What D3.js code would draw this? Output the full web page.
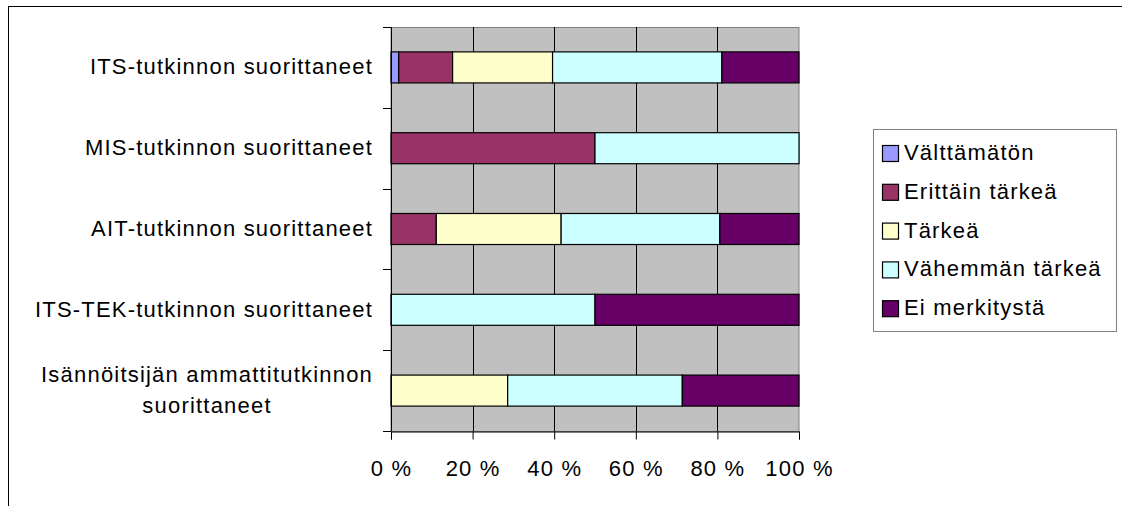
<!DOCTYPE html>
<html>
<head>
<meta charset="utf-8">
<script src="https://cdn.jsdelivr.net/npm/d3@7"></script>
<style>
  html, body { margin: 0; padding: 0; background: #ffffff; }
  svg { display: block; }
  text { font-family: "Liberation Sans", Arial, sans-serif; font-size: 22px; letter-spacing: 1.2px; fill: #000; }
</style>
</head>
<body>
<svg id="chart" width="1122" height="506"></svg>
<script>
// Respondent groups (one bar each), top to bottom
const categories = [
  "ITS-tutkinnon suorittaneet",
  "MIS-tutkinnon suorittaneet",
  "AIT-tutkinnon suorittaneet",
  "ITS-TEK-tutkinnon suorittaneet",
  "Isännöitsijän ammattitutkinnon\nsuorittaneet"
];

// Answer options, in stacking order
const seriesNames = ["Välttämätön", "Erittäin tärkeä", "Tärkeä", "Vähemmän tärkeä", "Ei merkitystä"];
const seriesColors = ["#9999FF", "#993366", "#FFFFCC", "#CCFFFF", "#660066"];

// Share of answers per group (%)
const valttamaton     = [1.9,  0,    0,    0,  0];
const erittainTarkea  = [13.2, 50,   11.1, 0,  0];
const tarkea          = [24.5, 0,    30.6, 0,  28.6];
const vahemmanTarkea  = [41.5, 50,   38.9, 50, 42.8];
const eiMerkitysta    = [18.9, 0,    19.4, 50, 28.6];

const xTicks = [0, 20, 40, 60, 80, 100];
const xTickLabels = ["0 %", "20 %", "40 %", "60 %", "80 %", "100 %"];

const seriesValues = [valttamaton, erittainTarkea, tarkea, vahemmanTarkea, eiMerkitysta];
const rows = categories.map((c, i) => {
  const r = { category: c };
  seriesNames.forEach((s, j) => { r[s] = seriesValues[j][i]; });
  return r;
});

const svg = d3.select("#chart");

// Outer chart frame
svg.append("rect")
  .attr("x", 8.5).attr("y", 6.5)
  .attr("width", 1130).attr("height", 520)
  .attr("fill", "none").attr("stroke", "#000").attr("stroke-width", 1);

const plot = { left: 391, right: 799, top: 27, bottom: 431 };

const x = d3.scaleLinear().domain([0, 100]).range([plot.left, plot.right]);
const y = d3.scaleBand().domain(categories)
  .range([plot.top, plot.bottom])
  .paddingInner(0.616).paddingOuter(0.308);

// Plot area background
svg.append("rect")
  .attr("x", plot.left).attr("y", plot.top + 0.5)
  .attr("width", plot.right - plot.left).attr("height", plot.bottom - plot.top)
  .attr("fill", "#C0C0C0").attr("stroke", "#808080").attr("stroke-width", 1);

// Vertical gridlines
svg.append("g")
  .selectAll("line")
  .data(xTicks.filter(t => t > 0 && t < 100))
  .join("line")
  .attr("x1", d => Math.round(x(d)) + 0.5).attr("x2", d => Math.round(x(d)) + 0.5)
  .attr("y1", plot.top).attr("y2", plot.bottom)
  .attr("stroke", "#000").attr("stroke-width", 1);

// Stacked bars
const stack = d3.stack().keys(seriesNames);
const layers = stack(rows);
const color = d3.scaleOrdinal().domain(seriesNames).range(seriesColors);

svg.append("g")
  .selectAll("g")
  .data(layers)
  .join("g")
  .attr("fill", d => color(d.key))
  .selectAll("rect")
  .data(d => d.filter(p => p[1] - p[0] > 0))
  .join("rect")
  .attr("x", d => x(d[0]))
  .attr("y", d => y(d.data.category))
  .attr("width", d => x(d[1]) - x(d[0]))
  .attr("height", y.bandwidth())
  .attr("stroke", "#000").attr("stroke-width", 1.2);

// Category axis: line and tick marks at band boundaries
const yAxis = svg.append("g");
yAxis.append("line")
  .attr("x1", plot.left + 0.5).attr("x2", plot.left + 0.5)
  .attr("y1", plot.top).attr("y2", plot.bottom)
  .attr("stroke", "#000");
const step = y.step();
yAxis.selectAll("line.tick")
  .data(d3.range(categories.length + 1))
  .join("line")
  .attr("class", "tick")
  .attr("x1", plot.left - 8).attr("x2", plot.left)
  .attr("y1", i => Math.round(plot.top + i * step) + 0.5)
  .attr("y2", i => Math.round(plot.top + i * step) + 0.5)
  .attr("stroke", "#000");

// Category labels (multi-line labels are centred as a block, block right-aligned)
const labelRight = 373;
const lineGap = 31;
categories.forEach(c => {
  const lines = c.split("\n");
  const cy = y(c) + y.bandwidth() / 2;
  const g = svg.append("g");
  const texts = lines.map((ln, k) => g.append("text")
    .attr("y", cy + 7 + (k - (lines.length - 1) / 2) * lineGap)
    .text(ln));
  const maxW = d3.max(texts, t => t.node().getComputedTextLength());
  texts.forEach(t => t.attr("x", labelRight - maxW / 2).attr("text-anchor", "middle"));
});

// Value axis
const xAxis = d3.axisBottom(x)
  .tickValues(xTicks)
  .tickFormat((d, i) => xTickLabels[i])
  .tickSize(8)
  .tickPadding(21);
const xg = svg.append("g")
  .attr("transform", `translate(0,${plot.bottom + 0.5})`)
  .call(xAxis);
xg.select(".domain").attr("stroke", "#000");
xg.selectAll(".tick line").attr("stroke", "#000");
xg.selectAll(".tick text")
  .attr("font-family", null).attr("font-size", null)
  .style("font-size", "22px").attr("fill", "#000");

// Legend
const legend = { x: 873, y: 129, w: 243, h: 202 };
svg.append("rect")
  .attr("x", legend.x + 0.5).attr("y", legend.y + 0.5)
  .attr("width", legend.w).attr("height", legend.h)
  .attr("fill", "#fff").attr("stroke", "#808080");
const items = svg.append("g")
  .selectAll("g")
  .data(seriesNames)
  .join("g")
  .attr("transform", (d, i) => `translate(${legend.x + 9},${152 + i * 38.8})`);
items.append("rect")
  .attr("x", 0.5).attr("y", -6.5)
  .attr("width", 16).attr("height", 16)
  .attr("fill", d => color(d)).attr("stroke", "#000").attr("stroke-width", 1.2);
items.append("text")
  .attr("x", 22).attr("y", 8)
  .text(d => d);
</script>
</body>
</html>
